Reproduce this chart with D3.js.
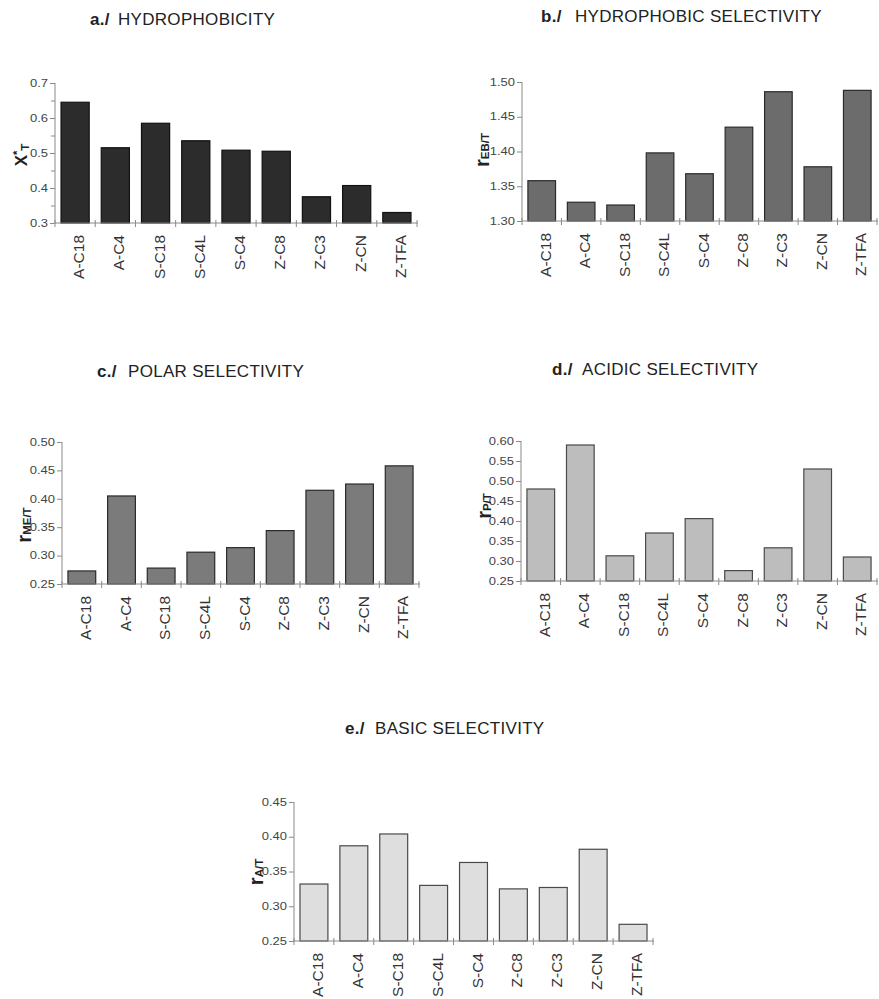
<!DOCTYPE html>
<html>
<head>
<meta charset="utf-8">
<script src="https://cdn.jsdelivr.net/npm/d3@7"></script>
<style>
  body { margin: 0; background: #fff; }
  svg { font-family: "Liberation Sans", Arial, sans-serif; }
  .domain { stroke: #8a8a8a; }
  .tick line { stroke: #8a8a8a; }
  .tick text { fill: #444; font-size: 10px; }
  .catLabel { fill: #333; font-size: 15.5px; }
  .title { fill: #222; font-size: 17px; letter-spacing: 0.3px; }
</style>
</head>
<body>
<div id="chart"></div>
<script>
// data
const categories = ["A-C18", "A-C4", "S-C18", "S-C4L", "S-C4", "Z-C8", "Z-C3", "Z-CN", "Z-TFA"]

const hydrophobicity = [0.645, 0.515, 0.585, 0.535, 0.508, 0.505, 0.375, 0.407, 0.330]
const hydrophobicSelectivity = [1.358, 1.327, 1.323, 1.398, 1.368, 1.435, 1.486, 1.378, 1.488]
const polarSelectivity = [0.273, 0.405, 0.278, 0.306, 0.314, 0.344, 0.415, 0.426, 0.458]
const acidicSelectivity = [0.480, 0.590, 0.313, 0.370, 0.406, 0.276, 0.333, 0.530, 0.310]
const basicSelectivity = [0.332, 0.387, 0.404, 0.330, 0.363, 0.325, 0.327, 0.382, 0.274]

const ticksA = [0.3, 0.4, 0.5, 0.6, 0.7]
const minorTicksA = [0.35, 0.45, 0.55, 0.65]
const ticksB = [1.30, 1.35, 1.40, 1.45, 1.50]
const ticksC = [0.25, 0.30, 0.35, 0.40, 0.45, 0.50]
const ticksD = [0.25, 0.30, 0.35, 0.40, 0.45, 0.50, 0.55, 0.60]
const ticksE = [0.25, 0.30, 0.35, 0.40, 0.45]

const titles = [
    ["a./", "HYDROPHOBICITY"],
    ["b./", "HYDROPHOBIC SELECTIVITY"],
    ["c./", "POLAR SELECTIVITY"],
    ["d./", "ACIDIC SELECTIVITY"],
    ["e./", "BASIC SELECTIVITY"]
]

// layout of each panel
let panels = [
    {values: hydrophobicity, ticks: ticksA, minor: minorTicksA, fmt: ".1f", title: titles[0],
     x0: 55, x1: 417, yTop: 83, yBot: 223, fill: "#2c2c2c", stroke: "#111",
     tx: 90, tw: 118, ty: 25, lx: 21, ly: 155, lab: "X", sup: "*", sub: "T"},
    {values: hydrophobicSelectivity, ticks: ticksB, minor: [], fmt: ".2f", title: titles[1],
     x0: 522, x1: 877, yTop: 82, yBot: 221, fill: "#6c6c6c", stroke: "#2a2a2a",
     tx: 541, tw: 575, ty: 22, lx: 483, ly: 150, lab: "r", sup: "", sub: "EB/T"},
    {values: polarSelectivity, ticks: ticksC, minor: [], fmt: ".2f", title: titles[2],
     x0: 62, x1: 419, yTop: 442, yBot: 584, fill: "#7b7b7b", stroke: "#2a2a2a",
     tx: 97, tw: 128, ty: 377, lx: 25, ly: 525, lab: "r", sup: "", sub: "ME/T"},
    {values: acidicSelectivity, ticks: ticksD, minor: [], fmt: ".2f", title: titles[3],
     x0: 521, x1: 877, yTop: 441, yBot: 581, fill: "#bdbdbd", stroke: "#4a4a4a",
     tx: 552, tw: 582, ty: 375, lx: 485, ly: 506, lab: "r", sup: "", sub: "P/T"},
    {values: basicSelectivity, ticks: ticksE, minor: [], fmt: ".2f", title: titles[4],
     x0: 294, x1: 653, yTop: 802, yBot: 941, fill: "#dedede", stroke: "#4a4a4a",
     tx: 345, tw: 375, ty: 734, lx: 257, ly: 872, lab: "r", sup: "", sub: "A/T"}
]

let svg = d3.select("#chart").append("svg")
    .attr("width", 879)
    .attr("height", 999)

panels.forEach((p) => {
    let g = svg.append("g")

    let x = d3.scaleBand()
        .domain(categories)
        .range([p.x0, p.x1])
        .paddingInner(0.3)
        .paddingOuter(0.15)

    let y = d3.scaleLinear()
        .domain([p.ticks[0], p.ticks[p.ticks.length - 1]])
        .range([p.yBot, p.yTop])

    // bars
    g.selectAll("rect")
        .data(p.values)
        .enter()
        .append("rect")
        .attr("x", (d, i) => x(categories[i]))
        .attr("y", (d) => y(d))
        .attr("width", x.bandwidth())
        .attr("height", (d) => y.range()[0] - y(d))
        .attr("fill", p.fill)
        .attr("stroke", p.stroke)
        .attr("stroke-width", 1.2)

    // y axis
    let sx = 1.3
    let yAxis = g.append("g")
        .attr("transform", "translate(" + p.x0 + ",0)")
        .call(d3.axisLeft(y).tickValues(p.ticks).tickSize(5).tickFormat(d3.format(p.fmt)))
    yAxis.select(".domain").attr("d", "M0," + p.yBot + "V" + p.yTop)
    yAxis.selectAll(".tick text")
        .attr("x", -7 / sx)
        .attr("transform", "scale(" + sx + ",1)")

    if (p.minor.length > 0) {
        g.append("g")
            .attr("transform", "translate(" + p.x0 + ",0)")
            .call(d3.axisLeft(y).tickValues(p.minor).tickSize(4).tickFormat(""))
            .select(".domain").remove()
    }

    // x axis with ticks at the category boundaries
    let step = x.step()
    let bounds = categories.map((c) => x(c) + x.bandwidth() / 2 - step / 2)
    bounds.push(p.x1)
    g.append("line")
        .attr("x1", p.x0).attr("x2", p.x1 + 1)
        .attr("y1", p.yBot).attr("y2", p.yBot)
        .attr("stroke", "#8a8a8a")
    g.selectAll("line.xtick")
        .data(bounds)
        .enter()
        .append("line")
        .attr("class", "xtick")
        .attr("x1", (d) => d).attr("x2", (d) => d)
        .attr("y1", p.yBot - 3).attr("y2", p.yBot + 4)
        .attr("stroke", "#8a8a8a")

    // category labels
    g.selectAll("text.catLabel")
        .data(categories)
        .enter()
        .append("text")
        .attr("class", "catLabel")
        .attr("text-anchor", "end")
        .attr("transform", (d) => "translate(" + (x(d) + x.bandwidth() / 2 + 9) + "," + (p.yBot + 12) + ") rotate(-90)")
        .text((d) => d)

    // title
    let t = g.append("text").attr("class", "title").attr("y", p.ty)
    t.append("tspan").attr("x", p.tx).attr("font-weight", "bold").text(p.title[0])
    t.append("tspan").attr("x", p.tw).text(p.title[1])

    // y label
    let lab = g.append("text")
        .attr("transform", "translate(" + p.lx + "," + p.ly + ") rotate(-90)")
        .attr("text-anchor", "middle")
        .attr("dy", "0.35em")
        .attr("font-weight", "bold")
        .attr("fill", "#222")
    lab.append("tspan").attr("font-size", p.lab == "X" ? "17px" : "20px").text(p.lab)
    if (p.sup) lab.append("tspan").attr("font-size", "11px").attr("dy", "-6").text(p.sup)
    lab.append("tspan").attr("font-size", "11.5px").attr("dy", p.sup ? "8" : "0").text(p.sub)
})
</script>
</body>
</html>
